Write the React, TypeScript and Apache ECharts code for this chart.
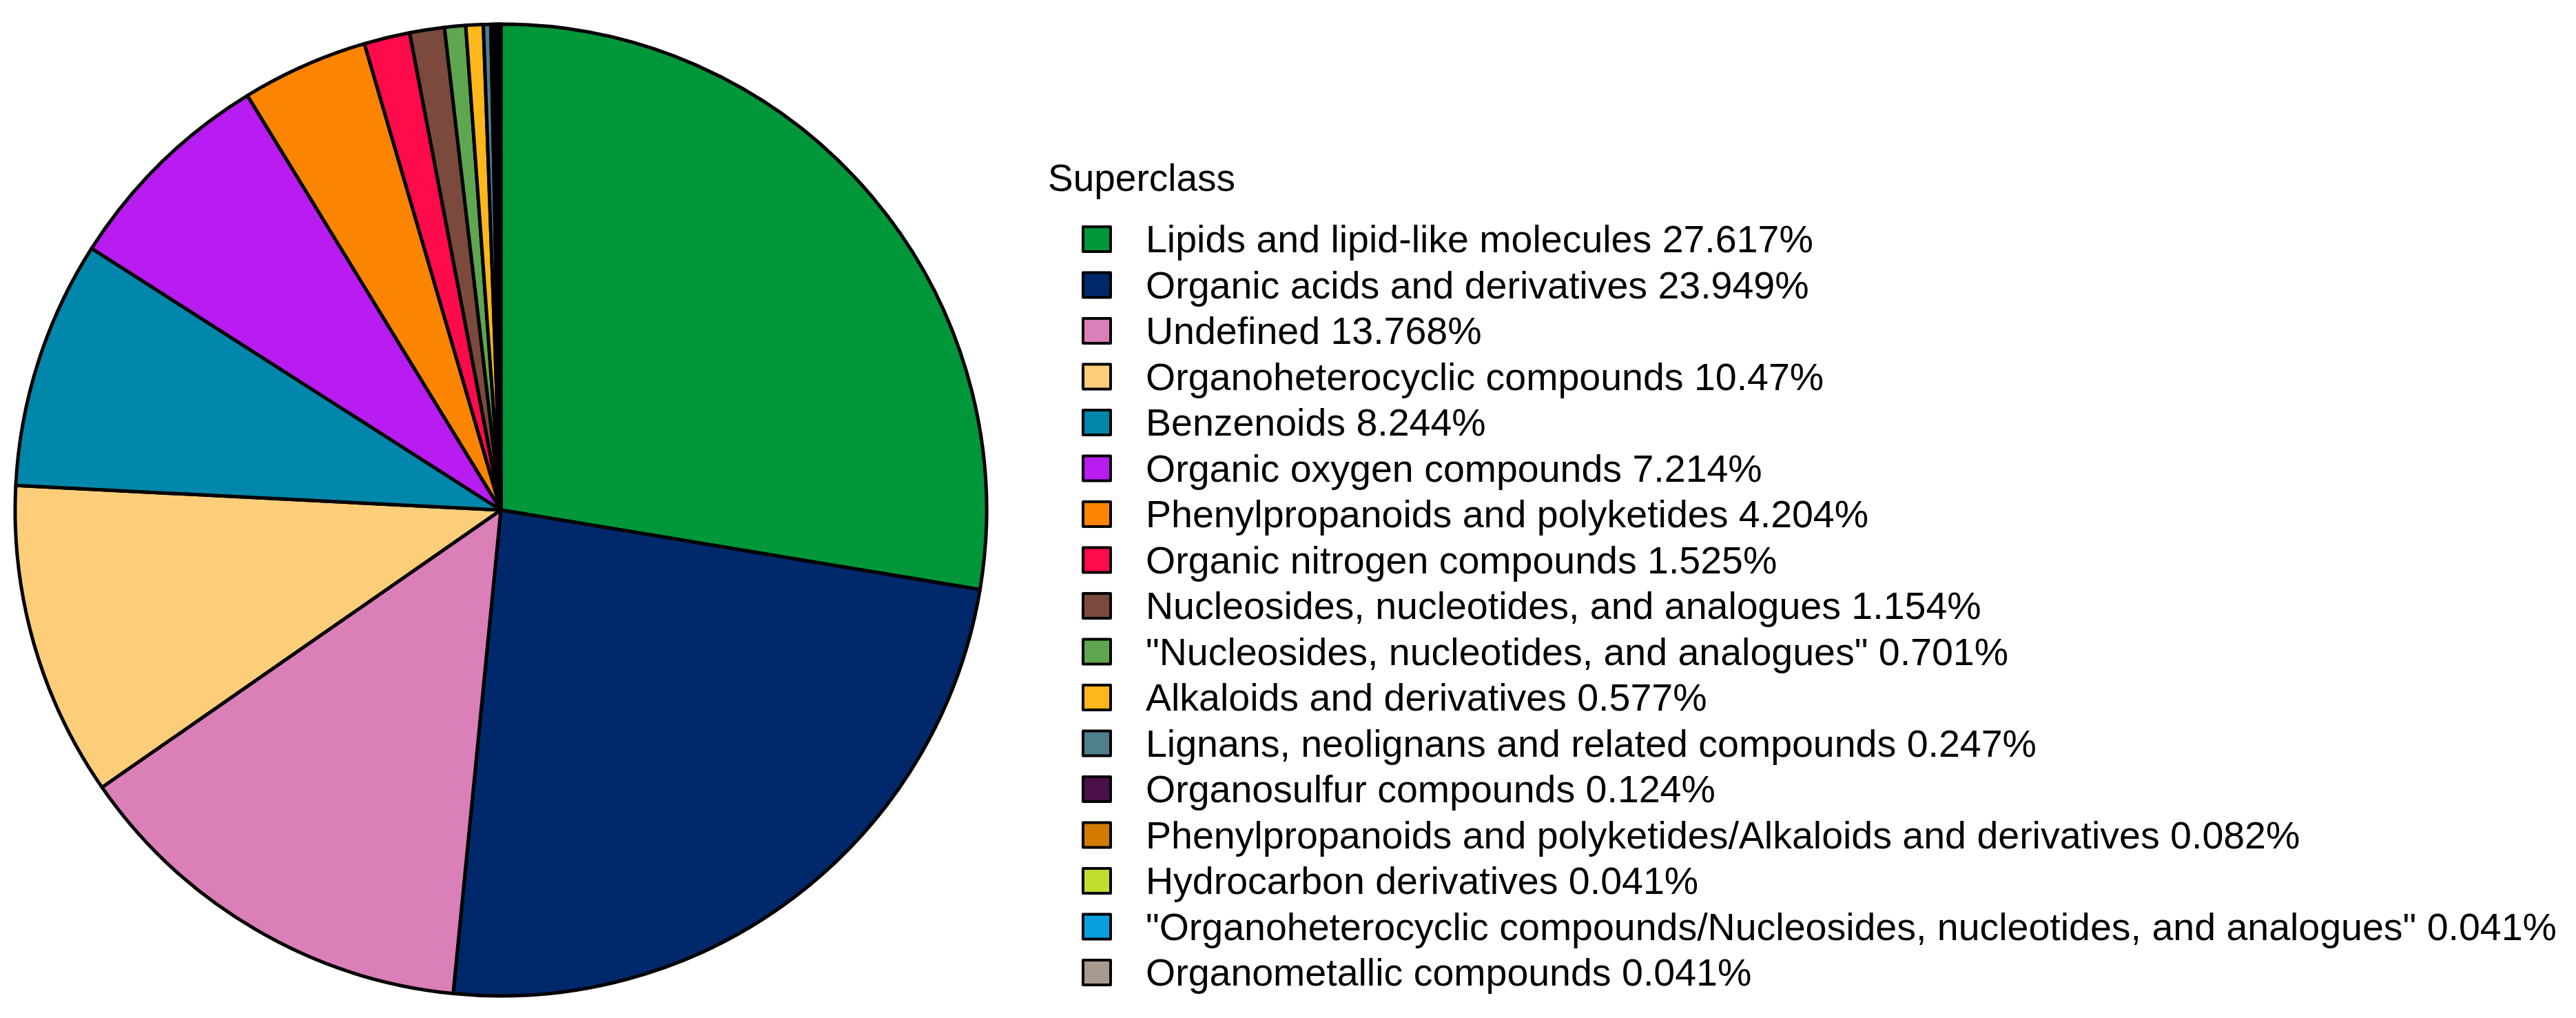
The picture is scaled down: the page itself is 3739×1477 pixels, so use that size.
import React, { useEffect, useRef } from "react";
import * as echarts from "echarts";

const categories = [
  "Lipids and lipid-like molecules",
  "Organic acids and derivatives",
  "Undefined",
  "Organoheterocyclic compounds",
  "Benzenoids",
  "Organic oxygen compounds",
  "Phenylpropanoids and polyketides",
  "Organic nitrogen compounds",
  "Nucleosides, nucleotides, and analogues",
  "\"Nucleosides, nucleotides, and analogues\"",
  "Alkaloids and derivatives",
  "Lignans, neolignans and related compounds",
  "Organosulfur compounds",
  "Phenylpropanoids and polyketides/Alkaloids and derivatives",
  "Hydrocarbon derivatives",
  "\"Organoheterocyclic compounds/Nucleosides, nucleotides, and analogues\"",
  "Organometallic compounds",
];

const percentLabels = [
  "27.617", "23.949", "13.768", "10.47", "8.244", "7.214", "4.204", "1.525",
  "1.154", "0.701", "0.577", "0.247", "0.124", "0.082", "0.041", "0.041", "0.041",
];

const values = percentLabels.map((s) => parseFloat(s));

const colors = [
  "#00963A", "#00286A", "#DB7FB9", "#FDCE7A", "#0087AB", "#B81CF1", "#FB8500",
  "#FF0A4A", "#7B4A3C", "#5FA650", "#FDB71A", "#4F7E8D", "#4B0F4A", "#D37B00",
  "#BEDD2E", "#0AA0E0", "#A89A8E",
];

const legendTitle = "Superclass";

export default function App() {
  const ref = useRef<HTMLDivElement>(null);
  useEffect(() => {
    if (!ref.current) return;
    const chart = echarts.init(ref.current, null, { renderer: "svg" });
    const labelMap: Record<string, string> = {};
    categories.forEach((c, i) => (labelMap[c] = `${c} ${percentLabels[i]}%`));
    chart.setOption({
      animation: false,
      backgroundColor: "#ffffff",
      color: colors,
      graphic: [
        {
          type: "text",
          left: 1521,
          top: 230,
          style: {
            text: legendTitle,
            fontFamily: "Liberation Sans",
            fontSize: 55,
            fill: "#000",
          },
        },
      ],
      legend: {
        orient: "vertical",
        left: 1570,
        top: 319,
        padding: 0,
        icon: "rect",
        itemWidth: 40,
        itemHeight: 36,
        itemGap: 10.5,
        selectedMode: false,
        itemStyle: { borderColor: "#000", borderWidth: 4 },
        formatter: (name: string) => labelMap[name],
        textStyle: {
          fontFamily: "Liberation Sans",
          fontSize: 55.5,
          color: "#000",
          padding: [0, 0, 0, 46],
        },
        data: categories,
      },
      series: [
        {
          type: "pie",
          center: [727, 740],
          radius: [0, 705],
          startAngle: 90,
          clockwise: true,
          minAngle: 0,
          label: { show: false },
          labelLine: { show: false },
          emphasis: { disabled: true },
          itemStyle: { borderColor: "#000", borderWidth: 5 },
          data: categories.map((c, i) => ({ name: c, value: values[i] })),
        },
      ],
    });
    return () => chart.dispose();
  }, []);
  return (
    <div
      ref={ref}
      style={{ position: "absolute", left: 0, top: 0, width: 3739, height: 1477 }}
    />
  );
}
